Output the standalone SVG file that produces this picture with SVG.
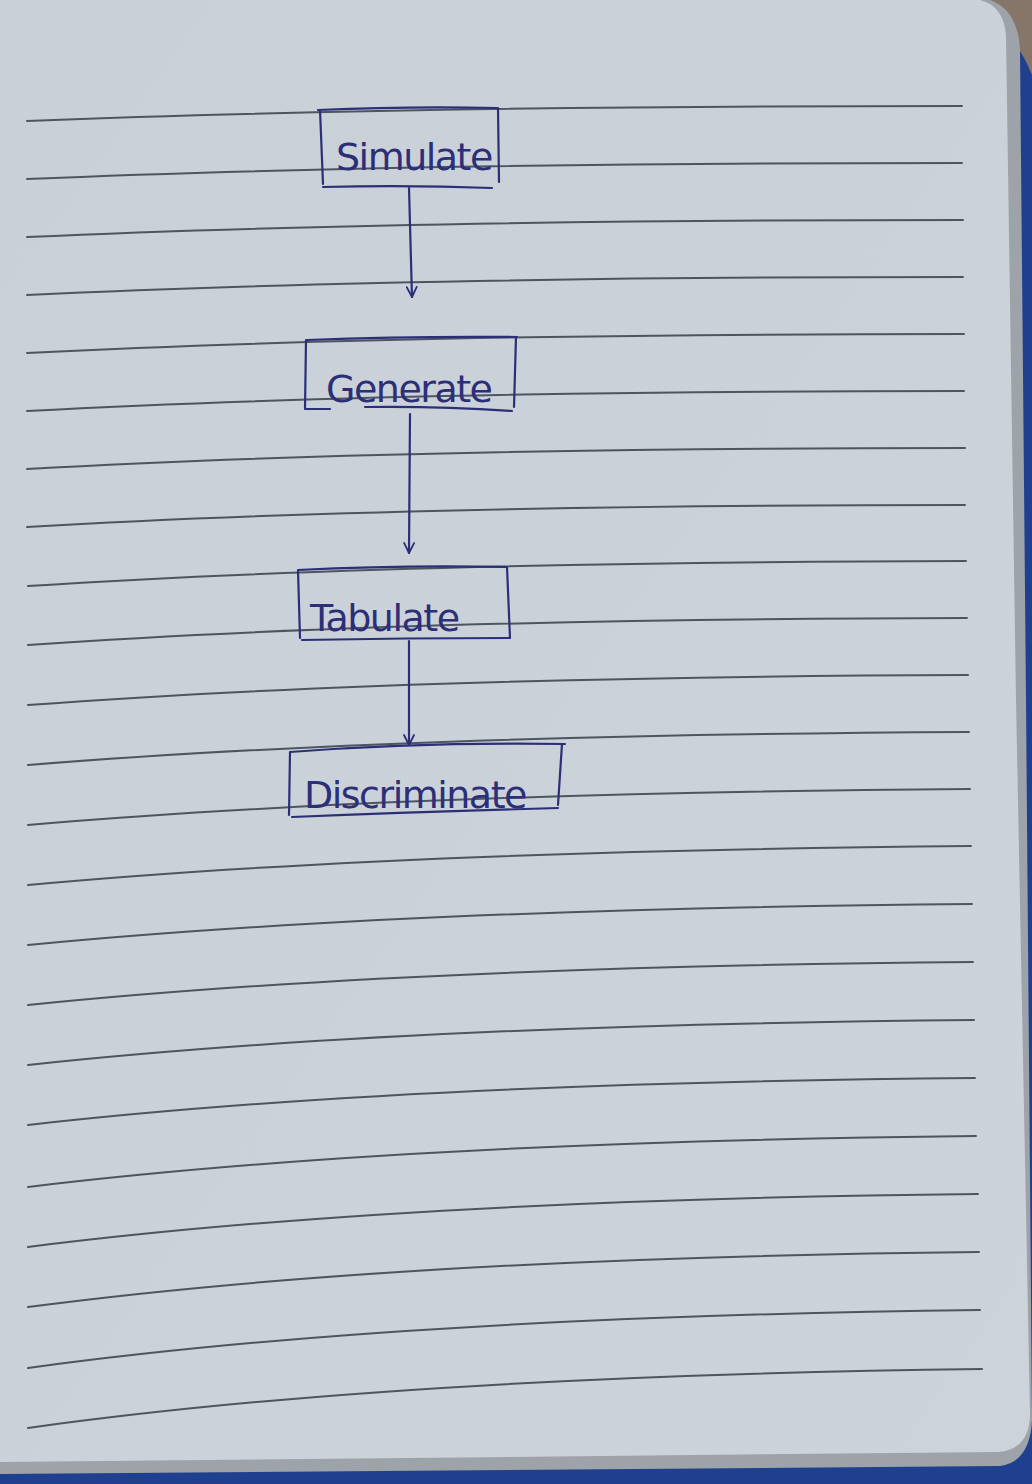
<svg xmlns="http://www.w3.org/2000/svg" width="1032" height="1484" viewBox="0 0 1032 1484">
<defs>
<style>
.rule{stroke:#4e5560;stroke-width:2;fill:none;stroke-linecap:round}
.ink{stroke:#2c2f78;stroke-width:2.2;fill:none;stroke-linecap:round;stroke-linejoin:round}
.lbl{font-family:"DejaVu Sans","Liberation Sans",sans-serif;font-size:38px;fill:#2c2f78;font-weight:normal;letter-spacing:-1.5px}
</style>
<marker id="arr" viewBox="0 0 12 12" refX="11" refY="6" markerWidth="12" markerHeight="12" markerUnits="userSpaceOnUse" orient="auto">
<path d="M1,1 L11,6 L1,11" fill="none" stroke="#2c2f78" stroke-width="1.8" stroke-linecap="round" stroke-linejoin="round"/>
</marker>
<linearGradient id="pg" x1="0" y1="0" x2="1" y2="1">
<stop offset="0" stop-color="#c9d0d8"/>
<stop offset="1" stop-color="#cdd3da"/>
</linearGradient>
</defs>
<!-- background: fabric and cover -->
<rect x="0" y="0" width="1032" height="1484" fill="#1f3f8f"/>
<path d="M975,0 L1032,0 L1032,75 Q1020,45 1005,35 Z" fill="#86766a"/>
<!-- page layers -->
<path d="M0,0 L990,0 Q1018,10 1020,50 L1026,700 L1032,1420 Q1030,1462 1000,1466 L0,1474 Z" fill="#9ea3a9"/>
<path d="M0,0 L980,0 Q1004,6 1006,36 L1016,700 L1030,1415 Q1029,1450 998,1452 L0,1462 Z" fill="url(#pg)"/>
<!-- ruled lines -->
<g id="rules">
<path class="rule" d="M27,121 Q400,106 962,106"/>
<path class="rule" d="M27,179 Q400,163 962,163"/>
<path class="rule" d="M27,237 Q400,220 963,220"/>
<path class="rule" d="M27,295 Q400,277 963,277"/>
<path class="rule" d="M27,353 Q400,334 964,334"/>
<path class="rule" d="M27,411 Q400,391 964,391"/>
<path class="rule" d="M27,469 Q400,448 965,448"/>
<path class="rule" d="M27,527 Q400,505 965,505"/>
<path class="rule" d="M28,586 Q400,562 966,561"/>
<path class="rule" d="M28,645 Q400,619 967,618"/>
<path class="rule" d="M28,705 Q400,677 968,675"/>
<path class="rule" d="M28,765 Q400,735 969,732"/>
<path class="rule" d="M28,825 Q400,793 970,789"/>
<path class="rule" d="M28,885 Q400,851 971,846"/>
<path class="rule" d="M28,945 Q400,909 972,904"/>
<path class="rule" d="M28,1005 Q400,967 973,962"/>
<path class="rule" d="M28,1065 Q400,1025 974,1020"/>
<path class="rule" d="M28,1125 Q400,1083 975,1078"/>
<path class="rule" d="M28,1187 Q400,1142 976,1136"/>
<path class="rule" d="M28,1247 Q400,1200 978,1194"/>
<path class="rule" d="M28,1307 Q400,1258 979,1252"/>
<path class="rule" d="M28,1368 Q400,1317 980,1310"/>
<path class="rule" d="M28,1428 Q400,1376 982,1369"/>
</g>
<!-- nodes -->
<g id="node-simulate">
<path class="ink" d="M318,110 Q410,106 497,108 M320,110 L323,184 M498,108 L499,182 M323,187 Q410,185 492,188"/>
<text class="lbl" x="336" y="170">Simulate</text>
</g>
<g id="node-generate">
<path class="ink" d="M307,340 Q410,336 517,337 M306,340 L305,409 M516,337 L514,407 M305,409 L330,409 M365,407 Q440,406 512,411"/>
<text class="lbl" x="326" y="402">Generate</text>
</g>
<g id="node-tabulate">
<path class="ink" d="M298,570 Q400,565 507,567 M298,570 L300,638 M507,567 L510,638 M302,640 Q405,638 510,638"/>
<text class="lbl" x="310" y="631">Tabulate</text>
</g>
<g id="node-discriminate">
<path class="ink" d="M290,752 Q420,742 565,744 M290,752 L289,815 M562,744 L558,805 M292,817 Q420,812 558,808"/>
<text class="lbl" x="304" y="808">Discriminate</text>
</g>
<!-- connectors -->
<g id="connectors">
<path class="ink" d="M409,188 L412,297" marker-end="url(#arr)"/>
<path class="ink" d="M410,414 L409,553" marker-end="url(#arr)"/>
<path class="ink" d="M409,641 L409,745" marker-end="url(#arr)"/>
</g>
</svg>
